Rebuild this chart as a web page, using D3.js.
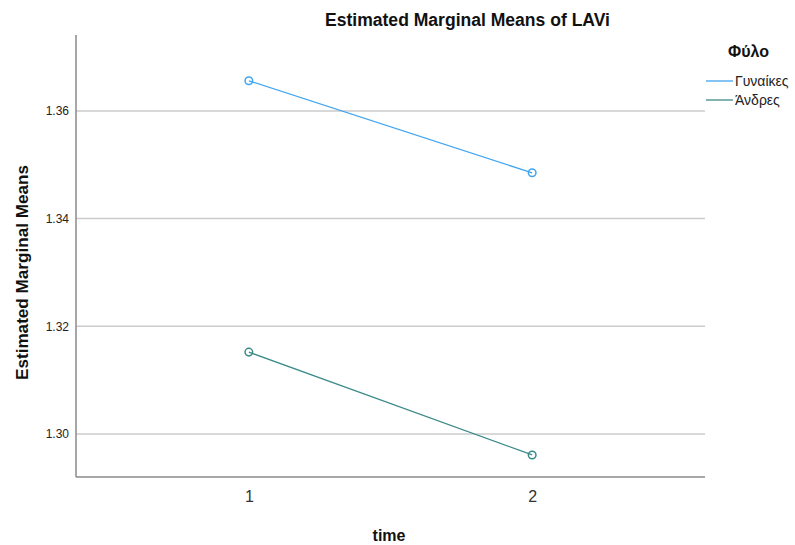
<!DOCTYPE html>
<html>
<head>
<meta charset="utf-8">
<script src="https://cdn.jsdelivr.net/npm/d3@7"></script>
<style>
  body { margin: 0; background: #fff; }
  text { font-family: "Liberation Sans", Arial, sans-serif; }
</style>
</head>
<body>
<svg id="chart" width="795" height="545"></svg>
<script>
// data
const times = ["1", "2"];
const groups = ["Γυναίκες", "Άνδρες"];
const groupColors = ["#42a5f0", "#3b8a88"];
const womenMeans = [1.3656, 1.3485];
const menMeans = [1.3152, 1.2961];
const yTicks = [1.30, 1.32, 1.34, 1.36];

let svg = d3.select("#chart");

let plotLeft = 76, plotRight = 705, plotTop = 35, plotBottom = 477;

let x = d3.scalePoint().domain(times).range([plotLeft, plotRight]).padding(0.61);
let y = d3.scaleLinear().domain([1.2920, 1.3741]).range([plotBottom, plotTop]);

// gridlines
svg.append("g")
    .selectAll("line")
    .data(yTicks)
    .join("line")
    .attr("x1", plotLeft).attr("x2", plotRight)
    .attr("y1", d => y(d)).attr("y2", d => y(d))
    .attr("stroke", "#cbcbcb")
    .attr("stroke-width", 1.5);

// y axis
let yAxis = svg.append("g")
    .attr("transform", `translate(${plotLeft},0)`)
    .call(d3.axisLeft(y).tickValues(yTicks).tickFormat(d3.format(".2f")).tickSize(0).tickPadding(7));
yAxis.select(".domain").remove();
yAxis.selectAll("text").attr("font-size", "12px").attr("fill", "#222").attr("font-family", "Liberation Sans, Arial, sans-serif");

// x axis
let xAxis = svg.append("g")
    .attr("transform", `translate(0,${plotBottom})`)
    .call(d3.axisBottom(x).tickSize(0).tickPadding(14));
xAxis.select(".domain").remove();
xAxis.selectAll("text").attr("font-size", "16px").attr("fill", "#333").attr("font-family", "Liberation Sans, Arial, sans-serif");

// axis lines
svg.append("line")
    .attr("x1", plotLeft).attr("x2", plotLeft).attr("y1", plotTop).attr("y2", plotBottom)
    .attr("stroke", "#8a8a8a").attr("stroke-width", 1.5);
svg.append("line")
    .attr("x1", plotLeft).attr("x2", plotRight).attr("y1", plotBottom).attr("y2", plotBottom)
    .attr("stroke", "#8a8a8a").attr("stroke-width", 1.5);

// series
let series = [womenMeans, menMeans];
let line = d3.line().x((d, i) => x(times[i])).y(d => y(d));

series.forEach((vals, k) => {
    svg.append("path")
        .datum(vals)
        .attr("d", line)
        .attr("fill", "none")
        .attr("stroke", groupColors[k])
        .attr("stroke-width", 1.3);
    svg.append("g")
        .selectAll("circle")
        .data(vals)
        .join("circle")
        .attr("cx", (d, i) => x(times[i]))
        .attr("cy", d => y(d))
        .attr("r", 3.8)
        .attr("fill", "none")
        .attr("stroke", groupColors[k])
        .attr("stroke-width", 1.5);
});

// title
svg.append("text")
    .attr("x", 325).attr("y", 26)
    .attr("font-size", "18px")
    .attr("font-weight", "bold")
    .attr("fill", "#111")
    .attr("textLength", 285)
    .attr("lengthAdjust", "spacingAndGlyphs")
    .text("Estimated Marginal Means of LAVi");

// axis titles
svg.append("text")
    .attr("transform", "translate(28,380) rotate(-90)")
    .attr("font-size", "17px")
    .attr("font-weight", "bold")
    .attr("fill", "#111")
    .attr("textLength", 215)
    .attr("lengthAdjust", "spacingAndGlyphs")
    .text("Estimated Marginal Means");

svg.append("text")
    .attr("x", 389).attr("y", 541)
    .attr("text-anchor", "middle")
    .attr("font-size", "16px")
    .attr("font-weight", "bold")
    .attr("fill", "#111")
    .text("time");

// legend
svg.append("text")
    .attr("x", 728).attr("y", 57)
    .attr("font-size", "16px")
    .attr("font-weight", "bold")
    .attr("fill", "#111")
    .text("Φύλο");

groups.forEach((g, i) => {
    let ly = 81 + i * 19;
    svg.append("line")
        .attr("x1", 706).attr("x2", 733)
        .attr("y1", ly).attr("y2", ly)
        .attr("stroke", groupColors[i])
        .attr("stroke-width", 1.3);
    svg.append("text")
        .attr("x", 735).attr("y", ly + 5)
        .attr("font-size", "14px")
        .attr("fill", "#222")
        .text(g);
});
</script>
</body>
</html>
